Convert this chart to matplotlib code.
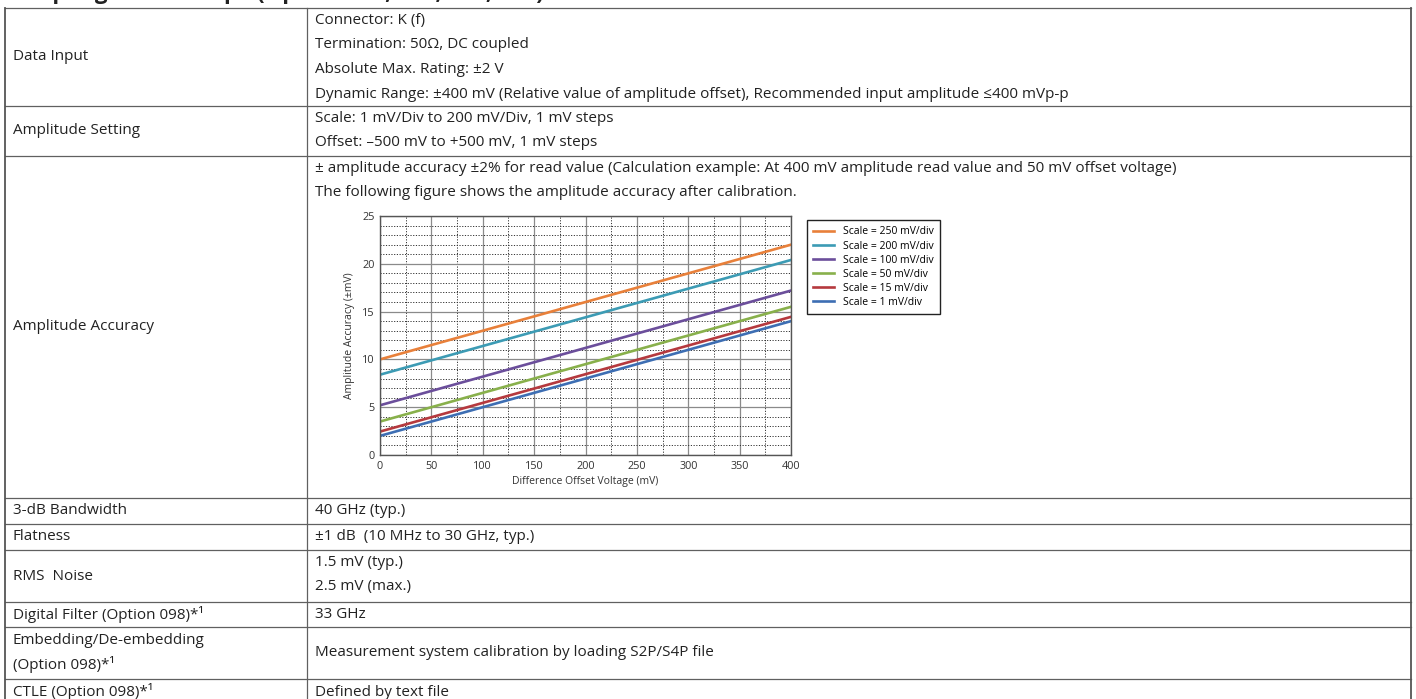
import matplotlib
matplotlib.use("Agg")
from matplotlib import pyplot as plt

plt.rcParams['font.family'] = ['Open Sans', 'DejaVu Sans']

# table content
row_labels = ["Data Input", "Amplitude Setting", "Amplitude Accuracy", "3-dB Bandwidth",
              "Flatness", "RMS  Noise", "Digital Filter (Option 098)*¹",
              "Embedding/De-embedding\n(Option 098)*¹", "CTLE (Option 098)*¹"]
row_values = [
    ["Connector: K (f)",
     "Termination: 50Ω, DC coupled",
     "Absolute Max. Rating: ±2 V",
     "Dynamic Range: ±400 mV (Relative value of amplitude offset), Recommended input amplitude ≤400 mVp-p"],
    ["Scale: 1 mV/Div to 200 mV/Div, 1 mV steps",
     "Offset: –500 mV to +500 mV, 1 mV steps"],
    ["± amplitude accuracy ±2% for read value (Calculation example: At 400 mV amplitude read value and 50 mV offset voltage)",
     "The following figure shows the amplitude accuracy after calibration."],
    ["40 GHz (typ.)"],
    ["±1 dB  (10 MHz to 30 GHz, typ.)"],
    ["1.5 mV (typ.)", "2.5 mV (max.)"],
    ["33 GHz"],
    ["Measurement system calibration by loading S2P/S4P file"],
    ["Defined by text file"],
]
row_edges = [8, 106, 156, 498, 524, 550, 602, 627, 679, 705]

# chart data
offset_mv = [0, 200, 400]
scale_labels = ["Scale = 250 mV/div", "Scale = 200 mV/div", "Scale = 100 mV/div",
                "Scale = 50 mV/div", "Scale = 15 mV/div", "Scale = 1 mV/div"]
acc_250 = [10.0, 16.0, 22.0]
acc_200 = [8.4, 14.4, 20.4]
acc_100 = [5.2, 11.2, 17.2]
acc_50 = [3.5, 9.5, 15.5]
acc_15 = [2.45, 8.45, 14.45]
acc_1 = [2.0, 8.0, 14.0]
colors = ["#E8803A", "#3C9BB4", "#6B4E9B", "#88B04B", "#B5393E", "#3D6EB3"]

W, H = 1416, 699
fig = plt.figure(figsize=(W / 100, H / 100), dpi=100)

tab = fig.add_axes([0, 0, 1, 1])
tab.set_xlim(0, W)
tab.set_ylim(H, 0)
tab.axis("off")

x_left, x_mid, x_right = 5, 307, 1411
lc = "#606060"
for y in row_edges:
    tab.plot([x_left, x_right], [y, y], color=lc, lw=0.9)
tab.plot([x_left, x_left], [row_edges[0], H], color="#555555", lw=1.3)
tab.plot([x_right, x_right], [row_edges[0], H], color="#555555", lw=1.3)
tab.plot([x_mid, x_mid], [row_edges[0], H], color=lc, lw=0.9)

# header (only its lower part shows at the top of the picture)
tab.text(5, 3.5, "Sampling Oscilloscope (Option 021, 022, 023, 024)", fontsize=16,
         fontweight="bold", va="bottom", ha="left", color="#222222")

fs = 11
line_h = 24.6
for i, (lab, vals) in enumerate(zip(row_labels, row_values)):
    top, bot = row_edges[i], row_edges[i + 1]
    tab.text(x_left + 8, (top + bot) / 2, lab, fontsize=fs, va="center", ha="left",
             color="#222222", linespacing=1.55)
    if len(vals) > 1 or lab == "Amplitude Accuracy":
        for k, v in enumerate(vals):
            tab.text(x_mid + 8, top + line_h * (k + 0.5), v, fontsize=fs, va="center",
                     ha="left", color="#222222")
    else:
        tab.text(x_mid + 8, (top + bot) / 2, vals[0], fontsize=fs, va="center",
                 ha="left", color="#222222")

# embedded chart
ax = fig.add_axes([380 / W, 1 - 455 / H, 411 / W, 239 / H])
series = [acc_250, acc_200, acc_100, acc_50, acc_15, acc_1]
for vals, lab, c in zip(series, scale_labels, colors):
    ax.plot(offset_mv, vals, color=c, lw=1.9, label=lab)

ax.set_xlim(0, 400)
ax.set_ylim(0, 25)
ax.set_xticks(range(0, 401, 50))
ax.set_yticks(range(0, 26, 5))
ax.set_xticks(range(25, 400, 50), minor=True)
ax.set_yticks([v for v in range(1, 25) if v % 5 != 0], minor=True)
ax.grid(which="major", color="#8a8a8a", lw=0.9, ls="-")
ax.grid(which="minor", color="#333333", lw=0.7, ls=(0, (1.2, 1.6)))
ax.set_axisbelow(True)
ax.tick_params(which="both", length=0, labelsize=7.8, colors="#333333", pad=4)
for s in ax.spines.values():
    s.set_color("#555555")
    s.set_linewidth(1)
ax.set_xlabel("Difference Offset Voltage (mV)", fontsize=7.5, color="#333333", labelpad=3)
ax.set_ylabel("Amplitude Accuracy (±mV)", fontsize=7.5, color="#333333", labelpad=5)

fig.legend(loc="upper left", bbox_to_anchor=(802 / W, 1 - 215 / H), fontsize=7.5,
           frameon=True, fancybox=False, edgecolor="#222222", framealpha=1,
           handlelength=2.0, handletextpad=0.8, labelspacing=0.3, borderpad=0.6)

fig.savefig("out.png", dpi=100)
